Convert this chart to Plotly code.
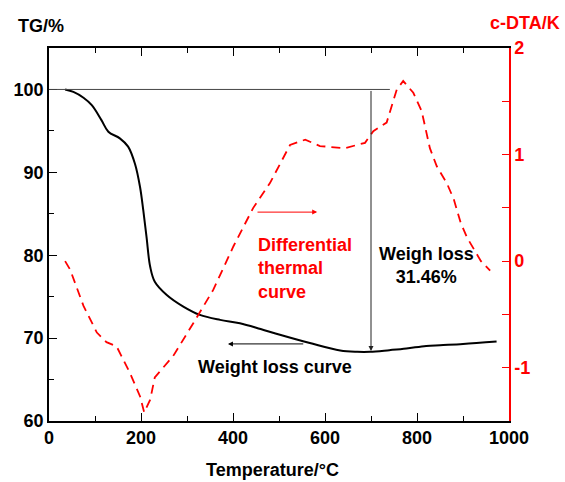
import plotly.graph_objects as go

# TG curve (weight %)
tg_temp = [35, 53, 75, 93, 114, 129, 154, 172, 187, 198, 205, 212, 220, 230, 256, 292, 328, 372,
           415, 460, 502, 567, 633, 670, 698, 740, 777, 820, 850, 900, 973]
tg_val = [100.0, 99.7, 99.0, 98.1, 96.3, 94.9, 94.1, 93.1, 91.0, 88.2, 85.4, 82.2, 78.6, 76.8, 75.2,
          73.8, 72.8, 72.2, 71.8, 71.1, 70.4, 69.4, 68.5, 68.35, 68.35, 68.55, 68.75, 69.05, 69.15, 69.3, 69.6]

# c-DTA curve (K)
dta_temp = [35, 46, 75, 104, 125, 147, 176, 198, 207, 220, 230, 270, 314, 357, 401, 444, 480, 524,
            557, 589, 643, 687, 705, 734, 756, 770, 792, 810, 828, 843, 865, 880, 895, 909, 939, 959]
dta_val = [0.0, -0.08, -0.42, -0.67, -0.76, -0.80, -1.05, -1.27, -1.42, -1.30, -1.09, -0.89, -0.58,
           -0.27, 0.14, 0.50, 0.73, 1.09, 1.14, 1.08, 1.06, 1.11, 1.22, 1.30, 1.61, 1.69, 1.58, 1.41,
           1.06, 0.89, 0.73, 0.58, 0.36, 0.22, 0.0, -0.09]

x_ticks = [0, 200, 400, 600, 800, 1000]
tg_ticks = [60, 70, 80, 90, 100]
dta_ticks = [-1, 0, 1, 2]
dta_labels = ["-1", "0", "1", "2"]

FONT = "Arial, Liberation Sans, sans-serif"
RED = "#ff0000"

fig = go.Figure()
fig.add_trace(go.Scatter(x=tg_temp, y=tg_val, mode="lines", line=dict(color="black", width=2, shape="spline"),
                         showlegend=False, hoverinfo="skip"))
fig.add_trace(go.Scatter(x=dta_temp, y=dta_val, mode="lines", yaxis="y2",
                         line=dict(color=RED, width=1.8, dash="9px,6px"),
                         showlegend=False, hoverinfo="skip"))

# reference lines: horizontal at 100 %, vertical arrow showing loss
fig.add_shape(type="line", x0=0, x1=741, y0=100, y1=100, xref="x", yref="y",
              line=dict(color="#444444", width=1))

annotations = [
    dict(x=700, y=68.45, ax=700, ay=100, xref="x", yref="y", axref="x", ayref="y",
         showarrow=True, arrowhead=2, arrowsize=1, arrowwidth=1, arrowcolor="#222222", text=""),
    dict(x=389, y=69.3, ax=556, ay=69.3, xref="x", yref="y", axref="x", ayref="y",
         showarrow=True, arrowhead=2, arrowsize=1, arrowwidth=1, arrowcolor="black", text=""),
    dict(x=583, y=85.2, ax=450, ay=85.2, xref="x", yref="y", axref="x", ayref="y",
         showarrow=True, arrowhead=2, arrowsize=1, arrowwidth=1, arrowcolor=RED, text=""),
    dict(x=450, y=78.4, xref="x", yref="y", showarrow=False, xanchor="left", yanchor="middle", align="left",
         text="Differential<br>thermal<br>curve", font=dict(family=FONT, size=18, color=RED, weight="bold")),
    dict(x=820, y=78.8, xref="x", yref="y", showarrow=False, xanchor="center", yanchor="middle", align="center",
         text="Weigh loss<br>31.46%", font=dict(family=FONT, size=18, color="black", weight="bold")),
    dict(x=491, y=66.5, xref="x", yref="y", showarrow=False, xanchor="center", yanchor="middle",
         text="Weight loss curve", font=dict(family=FONT, size=18, color="black", weight="bold")),
    dict(x=-0.017, y=1.06, xref="paper", yref="paper", showarrow=False, xanchor="center", yanchor="middle",
         text="TG/%", font=dict(family=FONT, size=18, color="black", weight="bold")),
    dict(x=1.035, y=1.068, xref="paper", yref="paper", showarrow=False, xanchor="center", yanchor="middle",
         text="c-DTA/K", font=dict(family=FONT, size=18, color=RED, weight="bold")),
    dict(x=0.485, y=-0.131, xref="paper", yref="paper", showarrow=False, xanchor="center", yanchor="middle",
         text="Temperature/°C", font=dict(family=FONT, size=18, color="black", weight="bold")),
]

fig.update_layout(
    width=565, height=482,
    margin=dict(l=49, r=56, t=48, b=61),
    paper_bgcolor="white", plot_bgcolor="white",
    font=dict(family=FONT, size=18, color="black"),
    annotations=annotations,
    xaxis=dict(range=[0, 1000], tickvals=x_ticks, ticks="inside", ticklen=8, tickwidth=1.2,
               tickcolor="black", showline=True, linecolor="black", linewidth=1.5, mirror="ticks",
               showgrid=False, zeroline=False,
               minor=dict(dtick=100, ticks="inside", ticklen=5, tickcolor="black", showgrid=False),
               tickfont=dict(family=FONT, size=18, color="black", weight="bold")),
    yaxis=dict(range=[60, 105], tickvals=tg_ticks, ticks="inside", ticklen=8, tickwidth=1.2,
               tickcolor="black", showline=True, linecolor="black", linewidth=1.5,
               showgrid=False, zeroline=False,
               minor=dict(dtick=5, tick0=60, ticks="inside", ticklen=5, tickcolor="black", showgrid=False),
               tickfont=dict(family=FONT, size=18, color="black", weight="bold")),
    yaxis2=dict(range=[-1.5, 2], tickvals=dta_ticks, ticktext=dta_labels, overlaying="y", side="right", anchor="x",
                ticks="inside", ticklen=7, tickwidth=1.2, tickcolor=RED,
                showline=True, linecolor=RED, linewidth=1.5, showgrid=False, zeroline=False,
                minor=dict(dtick=0.5, tick0=0, ticks="inside", ticklen=7, tickcolor=RED, showgrid=False),
                tickfont=dict(family=FONT, size=18, color=RED, weight="bold")),
)

fig.write_html("out.html")
